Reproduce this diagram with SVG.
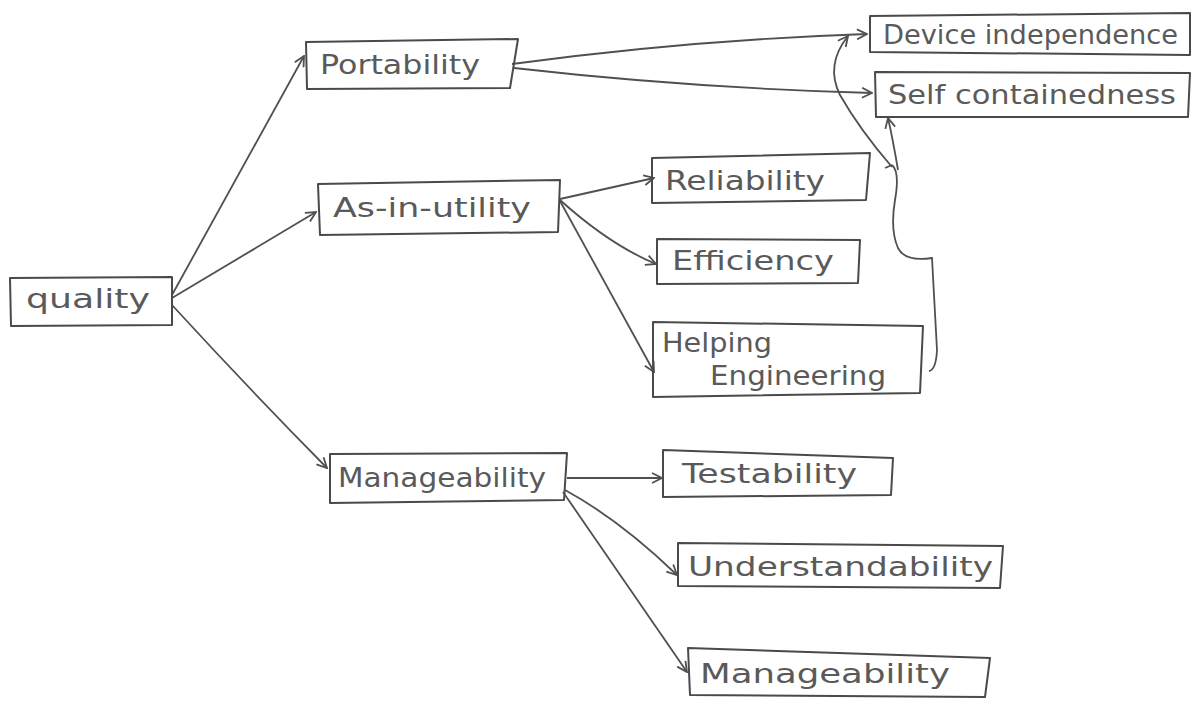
<svg xmlns="http://www.w3.org/2000/svg" width="1193" height="702" viewBox="0 0 1193 702">
  <style>
    .box { fill: none; stroke: #4a4a4a; stroke-width: 2; stroke-linejoin: round; }
    .lbl { font-family: "DejaVu Sans", "Liberation Sans", sans-serif; font-size: 26px; fill: #5a5a5a; }
    .edge { fill: none; stroke: #505050; stroke-width: 1.8; marker-end: url(#arrow); }
    .plain { fill: none; stroke: #505050; stroke-width: 1.8; }
  </style>
  <defs>
    <marker id="arrow" viewBox="0 0 12 12" refX="11" refY="6" markerWidth="12" markerHeight="12" markerUnits="userSpaceOnUse" orient="auto">
      <path d="M1,1 L11,6 L1,11" fill="none" stroke="#505050" stroke-width="1.8"/>
    </marker>
  </defs>

  <rect width="1193" height="702" fill="#ffffff"/>

  <!-- connectors -->
  <g id="connectors">
    <path class="edge" d="M172,295 L304,56"/>
    <path class="edge" d="M172,298 L316,212"/>
    <path class="edge" d="M172,305 Q250,390 327,468"/>
    <path class="edge" d="M512,64 Q690,40 867,34"/>
    <path class="edge" d="M514,68 Q690,88 872,93"/>
    <path class="edge" d="M560,199 L654,178"/>
    <path class="edge" d="M560,200 Q610,245 656,264"/>
    <path class="edge" d="M560,201 L654,372"/>
    <path class="edge" d="M567,478 L662,478"/>
    <path class="edge" d="M565,490 Q620,520 677,575"/>
    <path class="edge" d="M563,492 L687,672"/>
    <!-- feedback from Helping Engineering up to the top pair -->
    <path class="plain" d="M929,371 Q936,370 937,350 L932,258 Q905,262 898,248 Q890,230 895,200 Q900,172 892,165 M892,165 L885,168"/>
    <path class="edge" d="M898,170 Q893,140 888,118"/>
    <path class="edge" d="M892,167 Q860,130 840,95 Q825,65 848,36"/>
  </g>

  <g id="quality">
    <polygon class="box" points="10,278 172,277 172,325 11,326"/>
    <text class="lbl" x="26" y="308" textLength="124" lengthAdjust="spacingAndGlyphs">quality</text>
  </g>

  <g id="portability">
    <polygon class="box" points="306,42 518,39 510,88 307,89"/>
    <text class="lbl" x="320" y="74" textLength="160" lengthAdjust="spacingAndGlyphs">Portability</text>
  </g>

  <g id="as-in-utility">
    <polygon class="box" points="318,184 560,180 558,232 320,235"/>
    <text class="lbl" x="333" y="217" textLength="198" lengthAdjust="spacingAndGlyphs">As-in-utility</text>
  </g>

  <g id="manageability-mid">
    <polygon class="box" points="330,454 567,453 564,500 330,503"/>
    <text class="lbl" x="338" y="487" textLength="208" lengthAdjust="spacingAndGlyphs">Manageability</text>
  </g>

  <g id="device-independence">
    <polygon class="box" points="870,16 1190,13 1190,55 870,52"/>
    <text class="lbl" x="883" y="44" textLength="295" lengthAdjust="spacingAndGlyphs">Device independence</text>
  </g>

  <g id="self-containedness">
    <polygon class="box" points="875,72 1190,73 1188,117 876,117"/>
    <text class="lbl" x="888" y="104" textLength="288" lengthAdjust="spacingAndGlyphs">Self containedness</text>
  </g>

  <g id="reliability">
    <polygon class="box" points="652,158 870,153 866,200 652,203"/>
    <text class="lbl" x="665" y="190" textLength="160" lengthAdjust="spacingAndGlyphs">Reliability</text>
  </g>

  <g id="efficiency">
    <polygon class="box" points="657,239 860,240 858,283 657,284"/>
    <text class="lbl" x="672" y="270" textLength="162" lengthAdjust="spacingAndGlyphs">Efficiency</text>
  </g>

  <g id="helping-engineering">
    <polygon class="box" points="653,322 923,326 920,393 653,397"/>
    <text class="lbl" x="662" y="352" textLength="110" lengthAdjust="spacingAndGlyphs">Helping</text>
    <text class="lbl" x="710" y="385" textLength="176" lengthAdjust="spacingAndGlyphs">Engineering</text>
  </g>

  <g id="testability">
    <polygon class="box" points="663,450 893,458 891,495 663,497"/>
    <text class="lbl" x="682" y="483" textLength="175" lengthAdjust="spacingAndGlyphs">Testability</text>
  </g>

  <g id="understandability">
    <polygon class="box" points="678,543 1003,546 1000,588 678,586"/>
    <text class="lbl" x="688" y="576" textLength="305" lengthAdjust="spacingAndGlyphs">Understandability</text>
  </g>

  <g id="manageability-bottom">
    <polygon class="box" points="688,648 990,658 985,697 690,695"/>
    <text class="lbl" x="700" y="683" textLength="250" lengthAdjust="spacingAndGlyphs">Manageability</text>
  </g>
</svg>
